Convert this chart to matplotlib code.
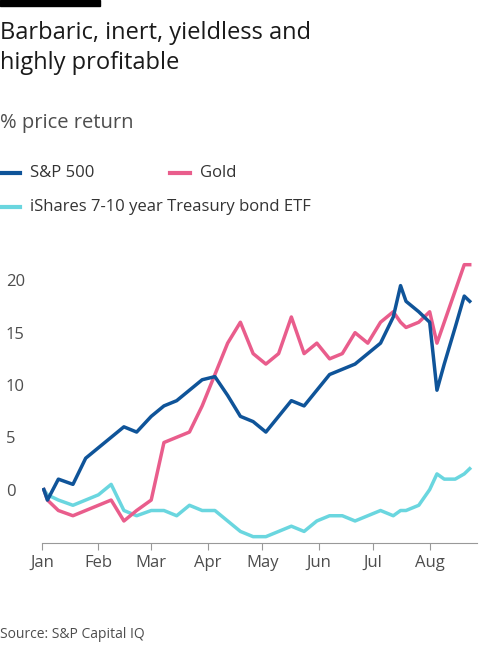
import matplotlib.pyplot as plt
import matplotlib.dates as mdates
from matplotlib.lines import Line2D
import pandas as pd

plt.rcParams['font.family'] = ['Open Sans', 'DejaVu Sans']

# weekly-ish readings
sp_dates = ['2024-01-02', '2024-01-04', '2024-01-10', '2024-01-18', '2024-01-25', '2024-02-01',
            '2024-02-08', '2024-02-15', '2024-02-22', '2024-03-01', '2024-03-08', '2024-03-15',
            '2024-03-22', '2024-03-29', '2024-04-05', '2024-04-12', '2024-04-19', '2024-04-26',
            '2024-05-03', '2024-05-10', '2024-05-17', '2024-05-24', '2024-05-31', '2024-06-07',
            '2024-06-14', '2024-06-21', '2024-06-28', '2024-07-05', '2024-07-12', '2024-07-16',
            '2024-07-19', '2024-07-26', '2024-08-01', '2024-08-05', '2024-08-09', '2024-08-15',
            '2024-08-20', '2024-08-23']
sp500 = [0, -1, 1, 0.5, 3, 4, 5, 6, 5.5, 7, 8, 8.5, 9.5, 10.5, 10.8, 9, 7, 6.5,
         5.5, 7, 8.5, 8, 9.5, 11, 11.5, 12, 13, 14, 16.5, 19.5, 18, 17, 16, 9.5, 12,
         15.5, 18.5, 18]
gold = [0, -1, -2, -2.5, -2, -1.5, -1, -3, -2, -1, 4.5, 5, 5.5, 8, 11, 14, 16, 13,
        12, 13, 16.5, 13, 14, 12.5, 13, 15, 14, 16, 17, 16, 15.5, 16, 17, 14, 16,
        19, 21.5, 21.5]
treasury = [0, -0.5, -1, -1.5, -1, -0.5, 0.5, -2, -2.5, -2, -2, -2.5, -1.5, -2,
            -2, -3, -4, -4.5, -4.5, -4, -3.5, -4, -3, -2.5, -2.5, -3, -2.5, -2,
            -2.5, -2, -2, -1.5, 0, 1.5, 1, 1, 1.5, 2]
dates = pd.to_datetime(sp_dates)

blue, pink, cyan = '#0f5499', '#e95d8c', '#6ad6df'

fig = plt.figure(figsize=(5, 6.67), dpi=100)
fig.patch.set_facecolor('white')
ax = fig.add_axes([0.084, 0.186, 0.87, 0.425])

ax.plot(dates, treasury, color=cyan, lw=2.5)
ax.plot(dates, gold, color=pink, lw=2.5)
ax.plot(dates, sp500, color=blue, lw=2.5)

ax.set_ylim(-5.1, 22)
ax.set_xlim(pd.Timestamp('2024-01-01'), pd.Timestamp('2024-08-27'))
ax.set_yticks([0, 5, 10, 15, 20])
ax.xaxis.set_major_locator(mdates.MonthLocator())
ax.xaxis.set_major_formatter(mdates.DateFormatter('%b'))
ax.tick_params(axis='y', length=0, labelsize=12, labelcolor='#4d4d4d', pad=26)
ax.tick_params(axis='x', length=5, color='#999999', labelsize=12, labelcolor='#4d4d4d')
for s in ['top', 'right', 'left']:
    ax.spines[s].set_visible(False)
ax.spines['bottom'].set_color('#999999')
for lbl in ax.get_yticklabels():
    lbl.set_horizontalalignment('left')

fig.add_artist(plt.Rectangle((0, 0.991), 0.2, 0.009, color='black', transform=fig.transFigure))
fig.text(0.0, 0.968, 'Barbaric, inert, yieldless and\nhighly profitable', fontsize=17,
         va='top', ha='left', color='#1a1a1a', linespacing=1.3)
fig.text(0.0, 0.815, '% price return', fontsize=14.5, va='center', color='#4d4d4d')

def legend_item(x, y, color, text):
    fig.add_artist(Line2D([x, x + 0.04], [y, y], color=color, lw=3, transform=fig.transFigure))
    fig.text(x + 0.06, y, text, fontsize=12, va='center', color='#333333')

legend_item(0.0, 0.741, blue, 'S&P 500')
legend_item(0.34, 0.741, pink, 'Gold')
legend_item(0.0, 0.689, cyan, 'iShares 7-10 year Treasury bond ETF')

fig.text(0.0, 0.048, 'Source: S&P Capital IQ', fontsize=10, va='center', color='#4d4d4d')

fig.savefig('out.png', dpi=100)
